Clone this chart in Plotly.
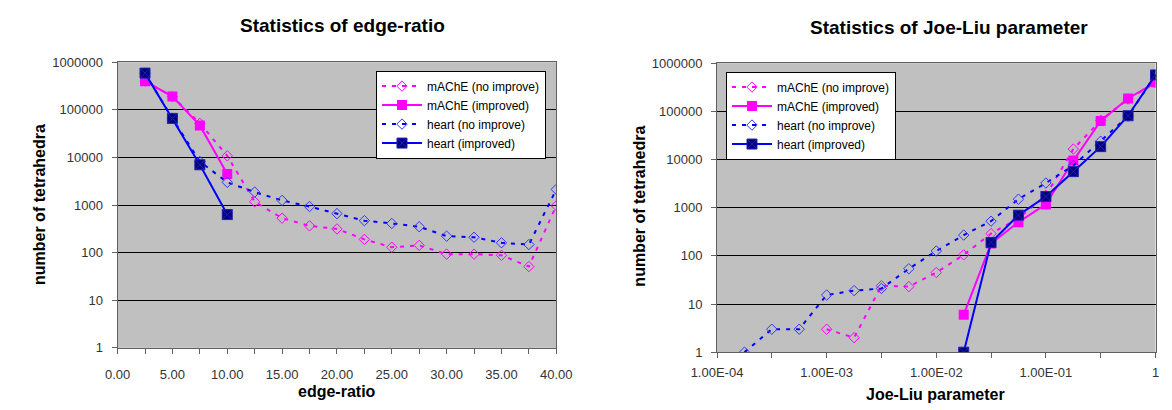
import plotly.graph_objects as go

W, H = 1172, 410

# ---------------- data: edge-ratio ----------------
edge_x = [2.5, 5, 7.5, 10, 12.5, 15, 17.5, 20, 22.5, 25, 27.5, 30, 32.5, 35, 37.5, 40]
edge_mache_noimp = [400000, 190000, 52000, 10800, 1170, 530, 365, 315, 190, 130, 142, 93, 93, 88, 51, 970]
edge_x_imp = [2.5, 5, 7.5, 10]
edge_mache_imp = [400000, 190000, 47000, 4500]
edge_heart_noimp = [590000, 66000, 8200, 3000, 1870, 1250, 930, 660, 470, 410, 350, 222, 210, 161, 148, 2130]
edge_heart_imp = [590000, 66000, 7000, 630]

# ---------------- data: Joe-Liu parameter ----------------
jl_x_heart_noimp = [1.78e-4, 3.16e-4, 5.62e-4, 1e-3, 1.78e-3, 3.16e-3, 5.62e-3, 1e-2,
                    1.78e-2, 3.16e-2, 5.62e-2, 1e-1, 1.78e-1, 3.16e-1, 5.62e-1, 1.0]
jl_heart_noimp = [1, 3, 3, 15.4, 19, 21, 54, 126, 270, 525, 1500, 3250, 7500, 24000, 79000, 570000]
jl_x_mache_noimp = [1e-3, 1.78e-3, 3.16e-3, 5.62e-3, 1e-2, 1.78e-2, 3.16e-2, 5.62e-2,
                    1e-1, 1.78e-1, 3.16e-1, 5.62e-1, 1.0]
jl_mache_noimp = [3, 2, 24, 23, 45, 105, 290, 600, 1800, 16500, 65000, 180000, 390000]
jl_x_imp = [1.78e-2, 3.16e-2, 5.62e-2, 1e-1, 1.78e-1, 3.16e-1, 5.62e-1, 1.0]
jl_mache_imp = [6, 180, 500, 1170, 9500, 63000, 185000, 400000]
jl_heart_imp = [1, 190, 700, 1700, 5600, 18500, 81000, 570000]

series_names = ["mAChE (no improve)", "mAChE (improved)", "heart (no improve)", "heart (improved)"]

y_tickvals = [1, 10, 100, 1000, 10000, 100000, 1000000]
y_ticktext = ["1", "10", "100", "1000", "10000", "100000", "1000000"]
edge_tickvals = [0, 5, 10, 15, 20, 25, 30, 35, 40]
edge_ticktext = ["0.00", "5.00", "10.00", "15.00", "20.00", "25.00", "30.00", "35.00", "40.00"]
jl_tickvals = [1e-4, 3.162e-4, 1e-3, 3.162e-3, 1e-2, 3.162e-2, 1e-1, 3.162e-1, 1]
jl_ticktext = ["1.00E-04", "", "1.00E-03", "", "1.00E-02", "", "1.00E-01", "", "1"]

MAG = "#FF00FF"
BLU = "#0000FF"
NAVY = "#000080"
FONT = "Liberation Sans, Arial, sans-serif"
DASH = "4px,6px"

fig = go.Figure()


def add_set(xa, ya, leg, x_mn, y_mn, x_mi, y_mi, x_hn, y_hn, x_hi, y_hi):
    fig.add_trace(go.Scatter(
        x=x_mn, y=y_mn, name=series_names[0], mode="lines+markers", xaxis=xa, yaxis=ya, legend=leg,
        line=dict(color=MAG, width=2, dash=DASH),
        marker=dict(symbol="diamond-open", size=8, color=MAG, line=dict(width=1))))
    fig.add_trace(go.Scatter(
        x=x_mi, y=y_mi, name=series_names[1], mode="lines+markers", xaxis=xa, yaxis=ya, legend=leg,
        line=dict(color=MAG, width=2),
        marker=dict(symbol="square", size=10, color=MAG)))
    fig.add_trace(go.Scatter(
        x=x_hn, y=y_hn, name=series_names[2], mode="lines+markers", xaxis=xa, yaxis=ya, legend=leg,
        line=dict(color=BLU, width=2, dash=DASH),
        marker=dict(symbol="diamond-open", size=8, color="#3333FF", line=dict(width=1))))
    fig.add_trace(go.Scatter(
        x=x_hi, y=y_hi, name=series_names[3], mode="lines+markers", xaxis=xa, yaxis=ya, legend=leg,
        line=dict(color=BLU, width=2),
        marker=dict(symbol="square-x", size=10, color=NAVY, line=dict(color="#2020B0", width=1))))


add_set("x", "y", "legend",
        edge_x, edge_mache_noimp, edge_x_imp, edge_mache_imp,
        edge_x, edge_heart_noimp, edge_x_imp, edge_heart_imp)
add_set("x2", "y2", "legend2",
        jl_x_mache_noimp, jl_mache_noimp, jl_x_imp, jl_mache_imp,
        jl_x_heart_noimp, jl_heart_noimp, jl_x_imp, jl_heart_imp)

tickfont = dict(family=FONT, size=13, color="#333333")
axline = "#606060"

common_y = dict(type="log", range=[0, 6], tickvals=y_tickvals, ticktext=y_ticktext,
                showgrid=True, gridcolor="#000000", gridwidth=1,
                showline=True, linecolor=axline, linewidth=1, mirror=True,
                ticks="outside", ticklen=5, tickcolor=axline, tickfont=tickfont,
                ticklabelstandoff=6, zeroline=False)

fig.update_layout(
    width=W, height=H, margin=dict(l=0, r=0, t=0, b=0),
    paper_bgcolor="white", plot_bgcolor="#C0C0C0",
    xaxis=dict(domain=[95 / W, 550 / W], range=[0, 40], anchor="y",
               tickvals=edge_tickvals, ticktext=edge_ticktext,
               minor=dict(dtick=2.5, ticks="outside", ticklen=5, tickcolor=axline, showgrid=False),
               showgrid=False, showline=True, linecolor=axline, linewidth=1, mirror=True,
               ticks="outside", ticklen=5, tickcolor=axline, tickfont=tickfont,
               ticklabelstandoff=10, zeroline=False),
    yaxis=dict(domain=[(H - 353.8) / H, (H - 57.3) / H], anchor="x", **common_y),
    xaxis2=dict(domain=[716.7 / W, 1171.5 / W], type="log", range=[-4, 0], anchor="y2",
                tickvals=jl_tickvals, ticktext=jl_ticktext,
                showgrid=False, showline=True, linecolor=axline, linewidth=1, mirror=True,
                ticks="outside", ticklen=5, tickcolor=axline, tickfont=tickfont,
                ticklabelstandoff=3, zeroline=False),
    yaxis2=dict(domain=[(H - 358.3) / H, (H - 58.3) / H], anchor="x2", **common_y),
    legend=dict(x=363 / W, y=1 - 66 / H, xanchor="left", yanchor="top",
                bgcolor="white", bordercolor="black", borderwidth=1,
                font=dict(family=FONT, size=12, color="black"), tracegroupgap=0,
                itemwidth=40),
    legend2=dict(x=726 / W, y=1 - 67 / H, xanchor="left", yanchor="top",
                 bgcolor="white", bordercolor="black", borderwidth=1,
                 font=dict(family=FONT, size=12, color="black"), tracegroupgap=0,
                 itemwidth=40),
    showlegend=True,
)

ann = []


def txt(text, x, y, size, angle=0):
    ann.append(dict(text=text, x=x / W, y=1 - y / H, xref="paper", yref="paper",
                    xanchor="center", yanchor="middle", showarrow=False, textangle=angle,
                    font=dict(family=FONT, size=size, color="black")))


txt("<b>Statistics of edge-ratio</b>", 328, 19, 19)
txt("<b>Statistics of Joe-Liu parameter</b>", 957, 21, 19)
txt("<b>edge-ratio</b>", 323, 399, 16)
txt("<b>Joe-Liu parameter</b>", 943, 402, 16)
txt("<b>number of tetrahedra</b>", 14, 205, 16, -90)
txt("<b>number of tetrahedra</b>", 636, 207, 16, -90)
fig.update_layout(annotations=ann)

fig.write_html("out.html")
